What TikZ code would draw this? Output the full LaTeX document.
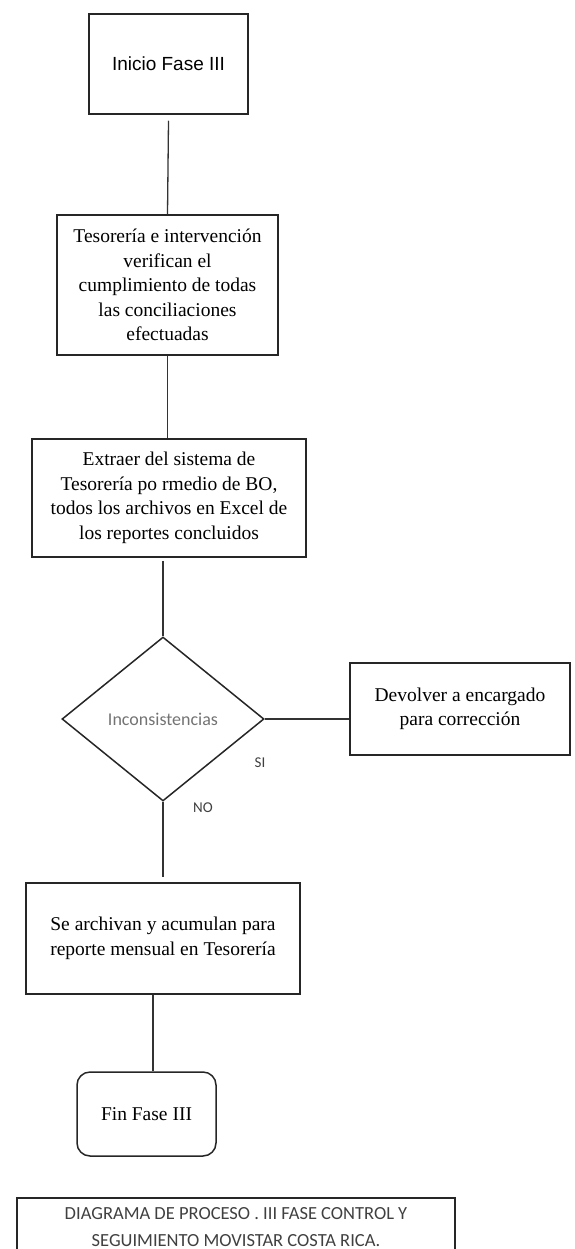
\documentclass[tikz,border=0pt]{standalone}
\usepackage{fontspec}
\setmainfont{Liberation Serif}
\newfontfamily\carlito{Carlito}
\newfontfamily\libsans{Liberation Sans}
\usetikzlibrary{shapes.geometric}

\tikzset{
  procbox/.style={draw=black!85, line width=1.5pt, inner sep=2pt, align=center,
    font=\fontsize{19.5}{24.5}\selectfont},
  decision/.style={diamond, draw=black!85, line width=1.5pt, inner sep=0pt,
    minimum width=202pt, minimum height=164pt,
    font=\carlito\fontsize{18}{21}\selectfont, text=black!55},
  endbox/.style={procbox, rounded corners=13pt},
  answer/.style={font=\carlito\fontsize{15}{18}\selectfont, text=black!75, inner sep=0pt},
  titlebox/.style={draw=black!85, line width=1.5pt, align=center, text=black!75,
    font=\carlito\fontsize{18.5}{27}\selectfont},
  link/.style={draw=black!80, line width=1.3pt}
}

\begin{document}
\begin{tikzpicture}[x=1pt, y=-1pt]
\useasboundingbox (0,0) rectangle (575,1249);
\clip (0,0) rectangle (575,1249);

% process steps
\node[procbox, minimum width=159pt, minimum height=100pt,
      font=\libsans\fontsize{19}{23}\selectfont] (start) at (168.5,64) {Inicio Fase III};

\node[procbox, minimum width=221pt, minimum height=140pt] (verify) at (167.5,285)
  {Tesorería e intervención\\ verifican el\\ cumplimiento de todas\\ las conciliaciones\\ efectuadas};

\node[procbox, minimum width=274pt, minimum height=118pt] (extract) at (169,498)
  {Extraer del sistema de\\ Tesorería po rmedio de BO,\\ todos los archivos en Excel de\\ los reportes concluidos};

\node[decision] (check) at (163,719) {Inconsistencias};

\node[procbox, minimum width=220pt, minimum height=92pt] (giveback) at (460,709)
  {Devolver a encargado\\ para corrección};

\node[procbox, minimum width=274pt, minimum height=111pt] (archive) at (163,938.5)
  {Se archivan y acumulan para\\ reporte mensual en Tesorería};

\node[endbox, minimum width=139pt, minimum height=84pt] (finish) at (146.5,1114)
  {Fin Fase III};

% branch labels
\node[answer] (yes) at (260,763) {SI};
\node[answer] (no) at (203,808) {NO};

% caption frame (runs past the lower page edge)
\node[titlebox, minimum width=438pt, minimum height=59pt, anchor=north] (caption) at (236,1197)
  {DIAGRAMA DE PROCESO . III FASE CONTROL Y\\ SEGUIMIENTO MOVISTAR COSTA RICA.};

% connectors
\path[link] ([yshift=-6pt]start.south) -- (verify.north);
\path[link] (verify.south) -- (verify.south |- extract.north);
\path[link] ([yshift=-3pt]extract.south -| check.north) -- (check.north);
\path[link] (check.east) -- (check.east -| giveback.west);
\path[link] (check.south) -- ([yshift=5pt]check.south |- archive.north);
\path[link] ([xshift=-10pt]archive.south) -- ([xshift=-10pt]archive.south |- finish.north);
\end{tikzpicture}
\end{document}
